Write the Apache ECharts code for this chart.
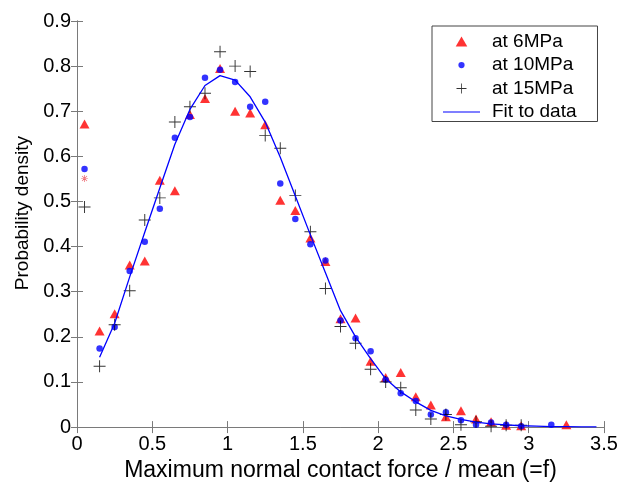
<!DOCTYPE html>
<html>
<head>
<meta charset="UTF-8">
<script src="https://cdn.jsdelivr.net/npm/echarts@6/dist/echarts.min.js"></script>
<style>
  html, body { margin: 0; padding: 0; background: #fff; }
  #chart { width: 634px; height: 487px; }
</style>
</head>
<body>
<div id="chart"></div>
<script>
// bin centres of the measured histograms
const bins = [0.05, 0.15, 0.25, 0.35, 0.45, 0.55, 0.65, 0.75, 0.85, 0.95,
  1.05, 1.15, 1.25, 1.35, 1.45, 1.55, 1.65, 1.75, 1.85, 1.95,
  2.05, 2.15, 2.25, 2.35, 2.45, 2.55, 2.65, 2.75, 2.85, 2.95];

const x6 = bins.concat([3.25]);
const y6 = [0.672, 0.213, 0.251, 0.359, 0.368, 0.547, 0.524, 0.693, 0.728, 0.795,
  0.700, 0.696, 0.670, 0.503, 0.480, 0.419, 0.367, 0.240, 0.242, 0.146,
  0.110, 0.121, 0.067, 0.049, 0.023, 0.036, 0.018, 0.012, 0.004, 0.003, 0.005];

const x10 = bins.concat([3.15]);
const y10 = [0.572, 0.174, 0.222, 0.346, 0.411, 0.484, 0.641, 0.687, 0.774, 0.792,
  0.765, 0.710, 0.721, 0.540, 0.461, 0.405, 0.369, 0.236, 0.197, 0.168,
  0.105, 0.075, 0.058, 0.028, 0.033, 0.015, 0.005, 0.010, 0.005, 0.002, 0.005];

const x15 = bins;
const y15 = [0.488, 0.135, 0.227, 0.302, 0.459, 0.508, 0.676, 0.710, 0.740, 0.832,
  0.800, 0.788, 0.646, 0.618, 0.513, 0.433, 0.307, 0.223, 0.186, 0.128,
  0.100, 0.087, 0.038, 0.018, 0.028, 0.005, 0.012, 0.002, 0.004, 0.004];

// fitted curve, read at the same bin centres
const xFit = [0.15, 0.25, 0.35, 0.45, 0.55, 0.65, 0.75, 0.85, 0.95,
  1.05, 1.15, 1.25, 1.35, 1.45, 1.55, 1.65, 1.75, 1.85, 1.95,
  2.05, 2.15, 2.25, 2.35, 2.45, 2.55, 2.65, 2.75, 2.85, 2.95,
  3.05, 3.15, 3.25, 3.35, 3.45];
const yFit = [0.155, 0.230, 0.333, 0.432, 0.530, 0.627, 0.704, 0.757, 0.779,
  0.769, 0.732, 0.676, 0.598, 0.512, 0.426, 0.342, 0.258, 0.200, 0.152,
  0.107, 0.078, 0.056, 0.037, 0.025, 0.017, 0.011, 0.007, 0.005, 0.003,
  0.002, 0.001, 0.001, 0.0005, 0.0003];

// stray marker at f = 0.05
const xStar = [0.05];
const yStar = [0.551];

const xTicks = { min: 0, max: 3.5, step: 0.5 };
const yTicks = { min: 0, max: 0.9, step: 0.1 };

const pairs = (xs, ys) => xs.map((x, i) => [x, ys[i]]);

const triPath = 'path://M0,-1 L1.1,0.9 L-1.1,0.9 Z';
const plusPath = 'path://M-0.08,-1 L0.08,-1 L0.08,-0.08 L1,-0.08 L1,0.08 L0.08,0.08 L0.08,1 L-0.08,1 L-0.08,0.08 L-1,0.08 L-1,-0.08 L-0.08,-0.08 Z';
const starPath = 'path://M-0.1,-1 L0.1,-1 L0.1,-0.1 L1,-0.1 L1,0.1 L0.1,0.1 L0.1,1 L-0.1,1 L-0.1,0.1 L-1,0.1 L-1,-0.1 L-0.1,-0.1 Z ' +
  'M-0.78,-0.64 L-0.64,-0.78 L0.78,0.64 L0.64,0.78 Z M0.78,-0.64 L0.64,-0.78 L-0.78,0.64 L-0.64,0.78 Z';
const linePath = 'path://M0,0 L40,0 L40,1.1 L0,1.1 Z';

const FONT = 'Liberation Sans, Arial, Helvetica, sans-serif';
const AXIS_GRAY = '#7a7a7a';

const chart = echarts.init(document.getElementById('chart'), null, { renderer: 'canvas' });

const baseX = {
  type: 'value', min: xTicks.min, max: xTicks.max, interval: xTicks.step,
  axisLine: { show: true, lineStyle: { color: AXIS_GRAY, width: 1 } },
  axisTick: { show: true, inside: true, length: 6, lineStyle: { color: AXIS_GRAY } },
  splitLine: { show: false }
};
const baseY = {
  type: 'value', min: yTicks.min, max: yTicks.max, interval: yTicks.step,
  axisLine: { show: true, lineStyle: { color: AXIS_GRAY, width: 1 } },
  axisTick: { show: true, inside: true, length: 6, lineStyle: { color: AXIS_GRAY } },
  splitLine: { show: false }
};

chart.setOption({
  animation: false,
  backgroundColor: '#fff',
  grid: { left: 77, right: 30, top: 21, bottom: 51, containLabel: false },
  xAxis: [
    Object.assign({}, baseX, {
      position: 'bottom',
      axisLabel: { color: '#000', fontSize: 20, fontFamily: FONT, margin: 7 },
      name: 'Maximum normal contact force / mean (=f)',
      nameLocation: 'middle', nameGap: 25,
      nameTextStyle: { color: '#000', fontSize: 23, fontFamily: FONT }
    }),
    Object.assign({}, baseX, { position: 'top', axisLabel: { show: false } })
  ],
  yAxis: [
    Object.assign({}, baseY, {
      position: 'left',
      axisLabel: { color: '#000', fontSize: 20, fontFamily: FONT, margin: 6 },
      name: 'Probability density',
      nameLocation: 'middle', nameGap: 36,
      nameTextStyle: { color: '#000', fontSize: 19, fontFamily: FONT, padding: [0, 0, 0, 22] }
    }),
    Object.assign({}, baseY, { position: 'right', axisLabel: { show: false } })
  ],
  legend: {
    orient: 'vertical', left: 432, top: 26,
    padding: [6, 21, 0, 11], itemGap: 4.5, itemWidth: 37, itemHeight: 10,
    symbolKeepAspect: true,
    backgroundColor: '#fff', borderColor: '#444', borderWidth: 1,
    textStyle: { color: '#000', fontSize: 19, fontFamily: FONT, padding: [0, 0, 0, 7] },
    data: [
      { name: 'at 6MPa', icon: triPath, itemStyle: { color: '#ff0000' } },
      { name: 'at 10MPa', icon: 'path://M0,-1 A1,1 0 1 1 0,1 A1,1 0 1 1 0,-1 Z M-1.6,-1.6 L-1.6,-1.6 M1.6,1.6 L1.6,1.6' },
      { name: 'at 15MPa', icon: plusPath },
      { name: 'Fit to data', icon: linePath }
    ]
  },
  series: [
    {
      name: 'at 6MPa', type: 'scatter', symbol: 'triangle', symbolSize: [10, 9],
      itemStyle: { color: '#ff0000' }, data: pairs(x6, y6), z: 2
    },
    {
      name: 'at 10MPa', type: 'scatter', symbol: 'circle', symbolSize: 6.5,
      itemStyle: { color: '#0000ff' }, data: pairs(x10, y10), z: 3
    },
    {
      name: 'at 15MPa', type: 'scatter', symbol: plusPath, symbolSize: 12,
      itemStyle: { color: '#000' }, data: pairs(x15, y15), z: 4
    },
    {
      name: 'stray', type: 'scatter', symbol: starPath, symbolSize: 7,
      itemStyle: { color: '#e8434f' }, data: pairs(xStar, yStar), z: 2
    },
    {
      name: 'Fit to data', type: 'line', symbol: 'none', smooth: false,
      lineStyle: { color: '#0000ff', width: 1.3 }, itemStyle: { color: '#0000ff' },
      data: pairs(xFit, yFit), z: 5
    }
  ]
});
</script>
</body>
</html>
